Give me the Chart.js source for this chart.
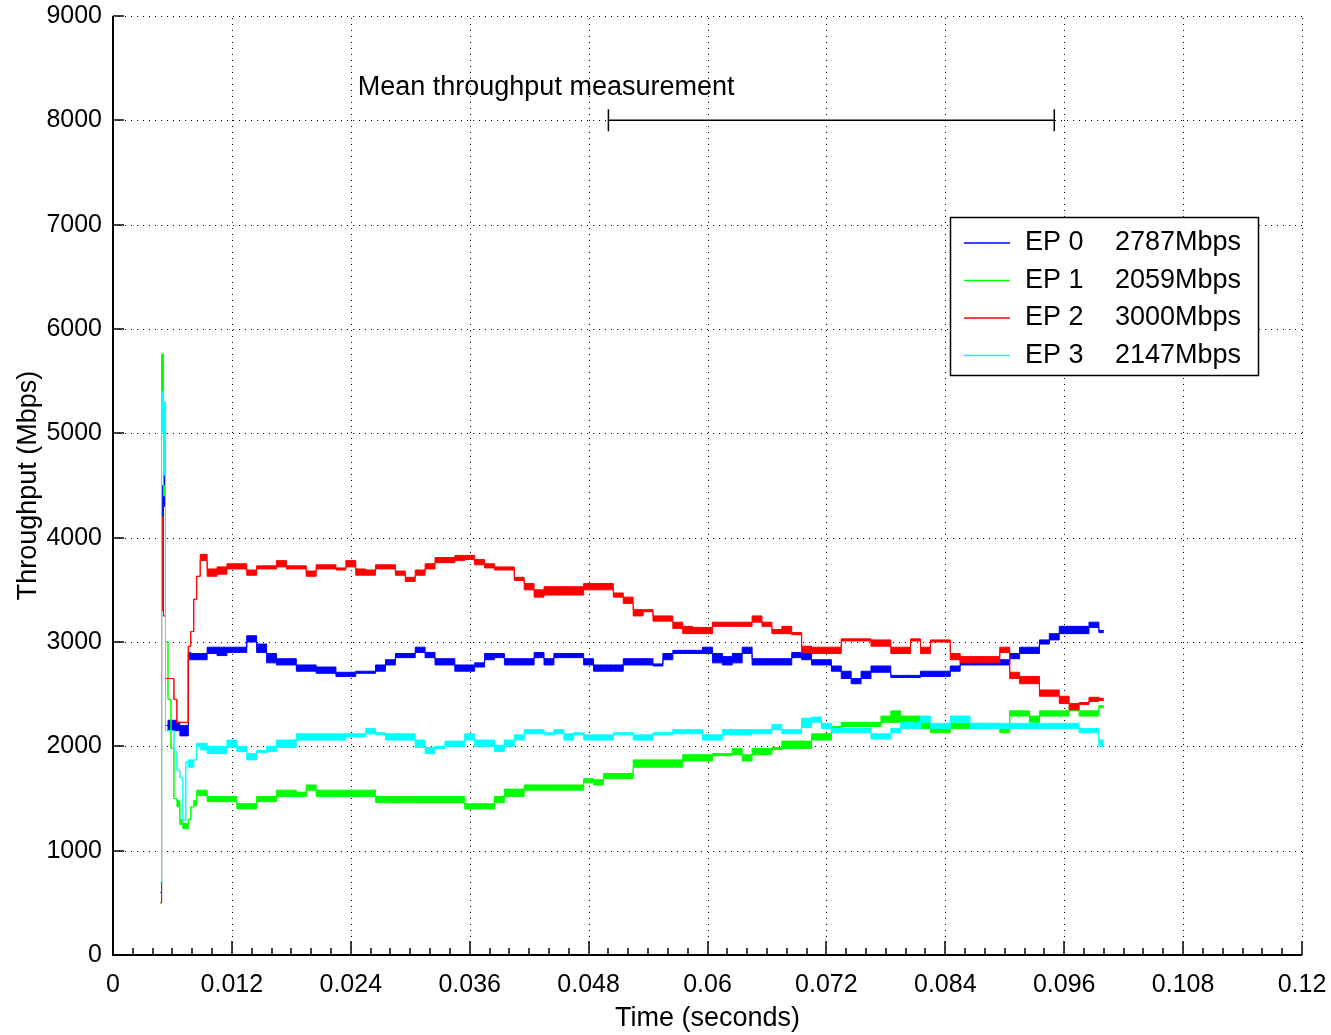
<!DOCTYPE html>
<html>
<head>
<meta charset="utf-8">
<title>Throughput per EP</title>
<script src="https://cdn.jsdelivr.net/npm/chart.js@4.4.1/dist/chart.umd.min.js"></script>
<style>
  html, body { margin: 0; padding: 0; background: #fff; }
  canvas { display: block; }
</style>
</head>
<body>
<canvas id="chart" width="1331" height="1035"></canvas>
<script>
// Time samples (seconds)
const times = [
  0.0048, 0.0050, 0.0052, 0.0054, 0.0057, 0.0060, 0.0063, 0.0066, 0.0069, 0.0072, 0.0075, 0.0077, 0.0080, 0.0083, 0.0086,
  0.009, 0.010, 0.011, 0.012, 0.013, 0.014, 0.015, 0.016, 0.017, 0.018, 0.019, 0.020, 0.021, 0.022, 0.023, 0.024,
  0.025, 0.026, 0.027, 0.028, 0.029, 0.030, 0.031, 0.032, 0.033, 0.034, 0.035, 0.036, 0.037, 0.038,
  0.039, 0.040, 0.041, 0.042, 0.043, 0.044, 0.045, 0.046, 0.047, 0.048, 0.049, 0.050, 0.051, 0.052, 0.053, 0.054,
  0.055, 0.056, 0.057, 0.058, 0.059, 0.060, 0.061, 0.062, 0.063, 0.064, 0.065, 0.066, 0.067, 0.068, 0.069, 0.070,
  0.071, 0.072, 0.073, 0.074, 0.075, 0.076, 0.077, 0.078, 0.079, 0.080, 0.081, 0.082, 0.083, 0.084, 0.085, 0.086,
  0.087, 0.088, 0.089, 0.090, 0.091, 0.092, 0.093, 0.094, 0.095, 0.096, 0.097, 0.098, 0.099, 0.100
];

// Each trace jitters between two levels, so keep the low and high edge of the band (Mbps)
const ep0Lo = [
  600, 4200, 4300, 2200, 2150, 2150, 2150, 2150, 2100, 2100, 2100, 2830, 2830, 2830, 2830,
  2830, 2890, 2870, 2900, 2900, 3000, 2900, 2800, 2780, 2780, 2720, 2720, 2700, 2700, 2670, 2670,
  2700, 2700, 2720, 2780, 2850, 2850, 2900, 2850, 2780, 2780, 2720, 2720, 2760, 2830,
  2850, 2780, 2780, 2780, 2850, 2780, 2850, 2850, 2850, 2780, 2720, 2720, 2720, 2780, 2780, 2780,
  2770, 2830, 2890, 2890, 2890, 2890, 2800, 2780, 2800, 2890, 2780, 2780, 2780, 2780, 2850, 2830,
  2780, 2780, 2720, 2650, 2600, 2650, 2710, 2710, 2660, 2660, 2660, 2670, 2670, 2670, 2720, 2780,
  2780, 2780, 2780, 2780, 2840, 2890, 2890, 2980, 3020, 3080, 3080, 3080, 3140, 3090
];
const ep0Hi = [
  600, 4500, 5000, 2200, 2250, 2250, 2250, 2230, 2200, 2200, 2200, 2900, 2890, 2890, 2890,
  2890, 2950, 2950, 2950, 2950, 3060, 2980, 2890, 2840, 2840, 2780, 2780, 2760, 2760, 2710, 2710,
  2720, 2720, 2780, 2830, 2890, 2890, 2950, 2900, 2840, 2840, 2780, 2780, 2800, 2890,
  2890, 2840, 2840, 2840, 2900, 2840, 2890, 2890, 2890, 2840, 2780, 2780, 2780, 2840, 2840, 2840,
  2790, 2890, 2920, 2920, 2920, 2950, 2890, 2860, 2890, 2950, 2840, 2840, 2840, 2840, 2900, 2890,
  2830, 2830, 2770, 2720, 2650, 2720, 2770, 2770, 2680, 2680, 2680, 2720, 2720, 2720, 2770, 2830,
  2830, 2830, 2830, 2830, 2890, 2950, 2950, 3020, 3080, 3150, 3150, 3150, 3190, 3110
];
const ep1Lo = [
  500, 5400, 4400, 3000, 2450, 1980, 1500, 1420, 1250, 1210, 1210, 1300, 1420, 1430, 1530,
  1530, 1470, 1470, 1470, 1400, 1400, 1470, 1470, 1520, 1520, 1520, 1580, 1520, 1520, 1520, 1520,
  1520, 1520, 1460, 1460, 1460, 1460, 1460, 1460, 1460, 1460, 1460, 1400, 1400, 1400,
  1460, 1520, 1520, 1580, 1580, 1580, 1580, 1580, 1580, 1650, 1630, 1690, 1690, 1690, 1800, 1800,
  1800, 1800, 1800, 1860, 1860, 1860, 1910, 1910, 1920, 1860, 1920, 1920, 1970, 1980, 1980, 1980,
  2060, 2060, 2140, 2190, 2190, 2190, 2190, 2230, 2230, 2230, 2230, 2170, 2130, 2130, 2170, 2170,
  2170, 2170, 2170, 2130, 2290, 2290, 2230, 2290, 2290, 2290, 2340, 2290, 2290, 2370
];
const ep1Hi = [
  500, 5760, 4500, 3000, 2450, 1980, 1500, 1480, 1300, 1260, 1260, 1300, 1420, 1480, 1580,
  1580, 1520, 1520, 1520, 1450, 1450, 1520, 1520, 1580, 1580, 1560, 1630, 1580, 1580, 1580, 1580,
  1580, 1580, 1520, 1520, 1520, 1520, 1520, 1520, 1520, 1520, 1520, 1450, 1450, 1450,
  1520, 1590, 1590, 1630, 1630, 1630, 1630, 1630, 1630, 1690, 1680, 1740, 1740, 1740, 1870, 1870,
  1870, 1870, 1870, 1920, 1920, 1920, 1930, 1930, 1980, 1920, 1980, 1980, 1990, 2050, 2050, 2050,
  2120, 2120, 2190, 2230, 2230, 2230, 2230, 2290, 2340, 2290, 2290, 2230, 2170, 2170, 2220, 2220,
  2220, 2220, 2220, 2170, 2340, 2340, 2290, 2340, 2340, 2340, 2390, 2340, 2340, 2390
];
const ep2Lo = [
  500, 3300, 3250, 2650, 2650, 2650, 2450, 2230, 2230, 2230, 2230, 2960, 3100, 3410, 3630,
  3780, 3630, 3650, 3700, 3700, 3640, 3700, 3700, 3720, 3700, 3700, 3630, 3700, 3700, 3690, 3720,
  3640, 3640, 3700, 3700, 3640, 3580, 3640, 3700, 3760, 3760, 3780, 3790, 3740, 3710,
  3690, 3690, 3590, 3500, 3430, 3450, 3450, 3450, 3450, 3500, 3500, 3500, 3430, 3370, 3250, 3290,
  3200, 3200, 3130, 3080, 3080, 3080, 3150, 3150, 3150, 3150, 3190, 3150, 3080, 3080, 3070, 2900,
  2890, 2890, 2890, 3010, 3010, 3010, 2960, 2960, 2890, 2890, 3010, 2890, 3000, 3000, 2830, 2800,
  2800, 2800, 2800, 2900, 2650, 2600, 2600, 2480, 2480, 2410, 2350, 2400, 2430, 2440
];
const ep2Hi = [
  500, 4200, 3250, 2650, 2650, 2650, 2450, 2230, 2230, 2230, 2230, 2960, 3100, 3410, 3630,
  3840, 3700, 3720, 3750, 3750, 3690, 3730, 3730, 3780, 3730, 3730, 3680, 3740, 3740, 3710, 3780,
  3700, 3690, 3740, 3740, 3680, 3620, 3690, 3750, 3810, 3810, 3830, 3830, 3790, 3750,
  3720, 3720, 3620, 3560, 3500, 3530, 3530, 3530, 3530, 3560, 3560, 3560, 3470, 3430, 3310, 3310,
  3250, 3250, 3190, 3150, 3140, 3140, 3190, 3190, 3190, 3190, 3250, 3190, 3120, 3150, 3090, 2960,
  2950, 2950, 2950, 3030, 3030, 3030, 3020, 3020, 2950, 2950, 3030, 2950, 3020, 3020, 2890, 2860,
  2860, 2860, 2860, 2950, 2710, 2670, 2670, 2540, 2540, 2480, 2410, 2420, 2470, 2460
];
const ep3Lo = [
  700, 5000, 4600, 2150, 2150, 2150, 1950, 1770, 1700, 1290, 1850, 1800, 1800, 1870, 2000,
  1965, 1930, 1930, 1990, 1950, 1870, 1940, 1950, 1990, 1990, 2060, 2060, 2060, 2060, 2060, 2090,
  2090, 2120, 2110, 2060, 2060, 2060, 1990, 1930, 1980, 2000, 2000, 2060, 2000, 2000,
  1950, 2000, 2060, 2120, 2120, 2110, 2120, 2060, 2110, 2060, 2060, 2060, 2110, 2110, 2060, 2060,
  2110, 2110, 2120, 2120, 2120, 2060, 2060, 2110, 2110, 2110, 2120, 2120, 2160, 2120, 2120, 2180,
  2230, 2170, 2130, 2130, 2130, 2130, 2070, 2070, 2130, 2170, 2170, 2230, 2170, 2170, 2230, 2230,
  2170, 2170, 2170, 2170, 2170, 2170, 2170, 2170, 2170, 2170, 2170, 2130, 2130, 2000
];
const ep3Hi = [
  700, 5400, 5300, 2150, 2150, 2150, 1950, 1770, 1700, 1290, 1850, 1870, 1870, 1870, 2030,
  2030, 2000, 2000, 2060, 2000, 1930, 1960, 2000, 2060, 2060, 2120, 2120, 2120, 2120, 2120, 2120,
  2120, 2170, 2130, 2120, 2120, 2120, 2060, 1990, 2000, 2050, 2050, 2120, 2060, 2060,
  2010, 2060, 2110, 2160, 2160, 2130, 2160, 2120, 2130, 2110, 2110, 2110, 2130, 2130, 2110, 2110,
  2130, 2130, 2160, 2160, 2160, 2110, 2110, 2160, 2160, 2160, 2160, 2160, 2210, 2160, 2160, 2270,
  2280, 2220, 2170, 2170, 2170, 2170, 2120, 2120, 2170, 2230, 2230, 2290, 2220, 2220, 2290, 2290,
  2220, 2220, 2220, 2220, 2220, 2220, 2220, 2220, 2220, 2220, 2220, 2170, 2170, 2060
];

const seriesNames = ['EP 0', 'EP 1', 'EP 2', 'EP 3'];
const meanThroughput = [2787, 2059, 3000, 2147];
const seriesColors = ['#0000ff', '#00ff00', '#ff0000', '#00ffff'];

const xTicks = [0, 0.012, 0.024, 0.036, 0.048, 0.06, 0.072, 0.084, 0.096, 0.108, 0.12];
const xTickLabels = ['0', '0.012', '0.024', '0.036', '0.048', '0.06', '0.072', '0.084', '0.096', '0.108', '0.12'];
const yTicks = [0, 1000, 2000, 3000, 4000, 5000, 6000, 7000, 8000, 9000];
const yTickLabels = ['0', '1000', '2000', '3000', '4000', '5000', '6000', '7000', '8000', '9000'];

// Mean throughput measurement window
const measureWindow = [0.05, 0.095];
const measureLevel = 8000;
const measureLabel = 'Mean throughput measurement';
const measureLabelPos = [0.0247, 8310];

const FONT = "'Liberation Sans', Arial, Helvetica, sans-serif";

const bands = [[ep0Lo, ep0Hi], [ep1Lo, ep1Hi], [ep2Lo, ep2Hi], [ep3Lo, ep3Hi]];
const datasets = [];
bands.forEach(([lo, hi], k) => {
    const common = {
        borderColor: seriesColors[k],
        backgroundColor: seriesColors[k],
        borderWidth: 1,
        pointRadius: 0,
        stepped: 'middle',
        order: 3 - k
    };
    datasets.push(Object.assign({}, common, {
        label: seriesNames[k] + ' hi',
        data: times.map((t, i) => ({ x: t, y: hi[i] })),
        fill: false
    }));
    datasets.push(Object.assign({}, common, {
        label: seriesNames[k],
        data: times.map((t, i) => ({ x: t, y: lo[i] })),
        fill: '-1'
    }));
});

// dotted grid, solid axes and inward tick marks
const frame = {
    id: 'frame',
    beforeDatasetsDraw(chart) {
        const { ctx, chartArea: a, scales: { x, y } } = chart;
        ctx.save();
        ctx.strokeStyle = '#000';
        ctx.lineWidth = 1;
        ctx.setLineDash([1, 5]);
        xTicks.forEach(v => {
            const px = Math.round(x.getPixelForValue(v)) + 0.5;
            ctx.beginPath(); ctx.moveTo(px, a.bottom); ctx.lineTo(px, a.top); ctx.stroke();
        });
        yTicks.forEach(v => {
            const py = Math.round(y.getPixelForValue(v)) + 0.5;
            ctx.beginPath(); ctx.moveTo(a.left, py); ctx.lineTo(a.right, py); ctx.stroke();
        });
        ctx.restore();
    },
    afterDatasetsDraw(chart) {
        const { ctx, chartArea: a, scales: { x, y } } = chart;
        ctx.save();
        ctx.strokeStyle = '#000';
        ctx.lineWidth = 2;
        ctx.beginPath();
        ctx.moveTo(a.left, a.top); ctx.lineTo(a.left, a.bottom); ctx.lineTo(a.right, a.bottom);
        ctx.stroke();
        ctx.lineWidth = 1.5;
        yTicks.forEach(v => {
            const py = Math.round(y.getPixelForValue(v));
            ctx.beginPath(); ctx.moveTo(a.left, py); ctx.lineTo(a.left + 11, py); ctx.stroke();
        });
        for (let i = 0; i <= 60; i++) {
            const px = Math.round(x.getPixelForValue(i * 0.002));
            const len = i % 6 === 0 ? 14 : 7;
            ctx.beginPath(); ctx.moveTo(px, a.bottom); ctx.lineTo(px, a.bottom - len); ctx.stroke();
        }
        ctx.restore();
    }
};

const annotation = {
    id: 'measure',
    afterDatasetsDraw(chart) {
        const { ctx, scales: { x, y } } = chart;
        const x0 = x.getPixelForValue(measureWindow[0]);
        const x1 = x.getPixelForValue(measureWindow[1]);
        const py = y.getPixelForValue(measureLevel);
        ctx.save();
        ctx.strokeStyle = '#000';
        ctx.lineWidth = 1.5;
        ctx.beginPath();
        ctx.moveTo(x0, py); ctx.lineTo(x1, py);
        ctx.moveTo(x0, py - 11); ctx.lineTo(x0, py + 11);
        ctx.moveTo(x1, py - 11); ctx.lineTo(x1, py + 11);
        ctx.stroke();
        ctx.fillStyle = '#000';
        ctx.font = '27px ' + FONT;
        ctx.textBaseline = 'middle';
        ctx.textAlign = 'left';
        ctx.fillText(measureLabel, x.getPixelForValue(measureLabelPos[0]), y.getPixelForValue(measureLabelPos[1]));
        ctx.restore();
    }
};

const legendBox = {
    id: 'legendBox',
    afterDraw(chart) {
        const { ctx, chartArea: a } = chart;
        const left = a.right - 352, top = a.top + 201, w = 308, h = 158;
        ctx.save();
        ctx.fillStyle = '#fff';
        ctx.fillRect(left, top, w, h);
        ctx.strokeStyle = '#000';
        ctx.lineWidth = 1.5;
        ctx.strokeRect(left + 0.5, top + 0.5, w, h);
        ctx.font = '27px ' + FONT;
        ctx.textBaseline = 'middle';
        ctx.fillStyle = '#000';
        seriesNames.forEach((name, k) => {
            const rowY = top + 26 + k * 37.5;
            ctx.strokeStyle = seriesColors[k];
            ctx.lineWidth = 1.5;
            ctx.beginPath(); ctx.moveTo(left + 14, rowY); ctx.lineTo(left + 60, rowY); ctx.stroke();
            ctx.fillText(name, left + 75, rowY);
            ctx.fillText(meanThroughput[k] + 'Mbps', left + 165, rowY);
        });
        ctx.restore();
    }
};

new Chart(document.getElementById('chart').getContext('2d'), {
    type: 'line',
    data: { datasets: datasets },
    options: {
        responsive: false,
        animation: false,
        devicePixelRatio: 1,
        layout: { padding: { left: 0, right: 29, top: 16, bottom: 0 } },
        plugins: {
            legend: { display: false },
            tooltip: { enabled: false }
        },
        scales: {
            x: {
                type: 'linear',
                min: 0,
                max: 0.12,
                afterBuildTicks: axis => { axis.ticks = xTicks.map(v => ({ value: v })); },
                afterFit: axis => {
                    axis.height = 80;
                    axis.paddingLeft = 0;
                    axis.paddingRight = 0;
                },
                grid: { display: false, drawTicks: false },
                border: { display: false },
                ticks: {
                    autoSkip: false,
                    maxRotation: 0,
                    padding: 15,
                    color: '#000',
                    font: { family: FONT, size: 25 },
                    callback: (v, i) => xTickLabels[i]
                },
                title: {
                    display: true,
                    text: 'Time (seconds)',
                    color: '#000',
                    font: { family: FONT, size: 27 },
                    padding: { top: 0, bottom: 0 }
                }
            },
            y: {
                type: 'linear',
                min: 0,
                max: 9000,
                afterBuildTicks: axis => { axis.ticks = yTicks.map(v => ({ value: v })); },
                afterFit: axis => {
                    axis.width = 113;
                    axis.paddingTop = 0;
                    axis.paddingBottom = 0;
                },
                grid: { display: false, drawTicks: false },
                border: { display: false },
                ticks: {
                    autoSkip: false,
                    padding: 11,
                    color: '#000',
                    font: { family: FONT, size: 25 },
                    callback: (v, i) => yTickLabels[i]
                },
                title: {
                    display: true,
                    text: 'Throughput (Mbps)',
                    color: '#000',
                    font: { family: FONT, size: 27 },
                    padding: { top: 12, bottom: 0 }
                }
            }
        }
    },
    plugins: [frame, annotation, legendBox]
});
</script>
</body>
</html>
